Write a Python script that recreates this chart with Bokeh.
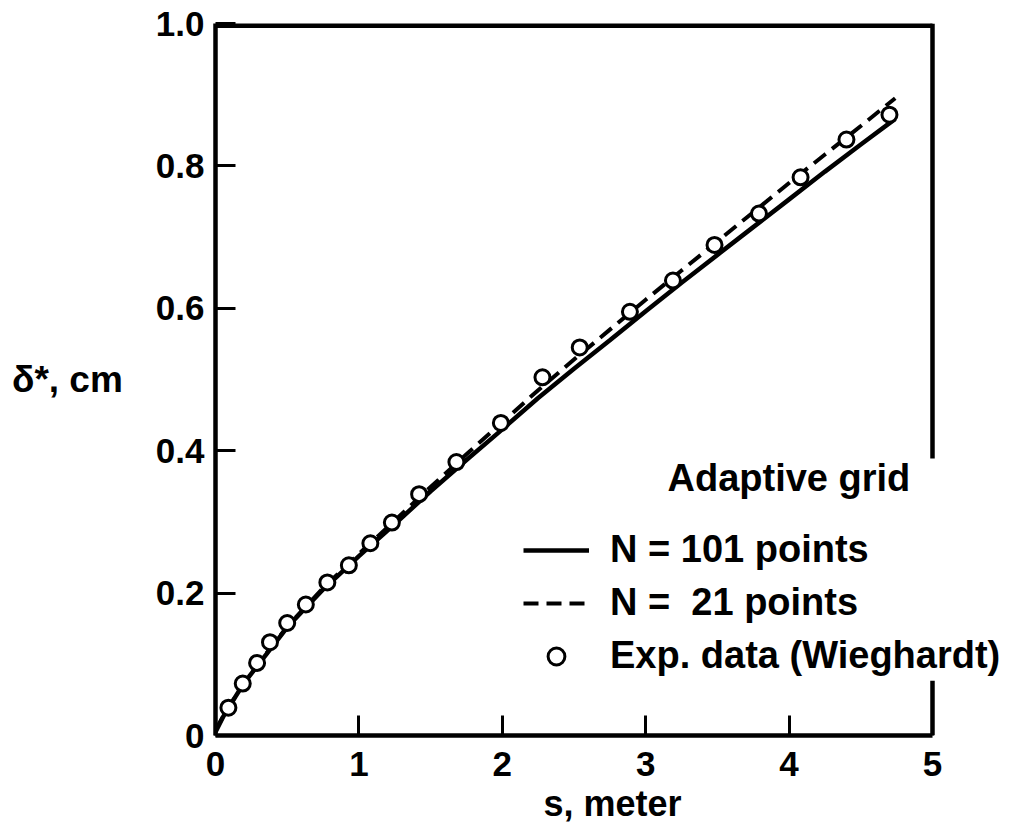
from bokeh.plotting import figure
from bokeh.models import Range1d, FixedTicker, Label, Legend, LegendItem
from bokeh.embed import file_html
from bokeh.resources import INLINE

# Experimental data (Wieghardt)
s_exp = [0.09, 0.19, 0.29, 0.38, 0.50, 0.63, 0.78, 0.93, 1.08, 1.23, 1.42,
         1.68, 1.99, 2.28, 2.54, 2.89, 3.19, 3.48, 3.79, 4.08, 4.40, 4.70]
d_exp = [0.039, 0.073, 0.102, 0.131, 0.158, 0.184, 0.215, 0.239, 0.270, 0.299, 0.339,
         0.384, 0.439, 0.503, 0.545, 0.595, 0.639, 0.689, 0.733, 0.784, 0.837, 0.872]

# N = 101 points (solid)
s_101 = [0.0, 0.05, 0.1, 0.2, 0.3, 0.4, 0.5, 0.75, 1.0, 1.25, 1.5, 1.75, 2.0, 2.25,
         2.5, 2.75, 3.0, 3.25, 3.5, 3.75, 4.0, 4.25, 4.5, 4.74]
d_101 = [0.005, 0.025, 0.042, 0.074, 0.100, 0.126, 0.152, 0.205, 0.252, 0.297, 0.343, 0.387,
         0.430, 0.474, 0.515, 0.555, 0.596, 0.636, 0.675, 0.714, 0.753, 0.792, 0.830, 0.866]

# N = 21 points (dashed)
s_21 = [0.0, 0.1, 0.3, 0.5, 0.75, 1.0, 1.25, 1.5, 1.75, 2.0, 2.25, 2.5, 2.75, 3.0,
        3.25, 3.5, 3.75, 4.0, 4.25, 4.5, 4.74]
d_21 = [0.008, 0.043, 0.101, 0.153, 0.207, 0.255, 0.302, 0.349, 0.395, 0.440, 0.485, 0.528,
        0.570, 0.612, 0.653, 0.694, 0.735, 0.776, 0.816, 0.856, 0.895]

x_ticks = [0, 1, 2, 3, 4, 5]
y_ticks = [0, 0.2, 0.4, 0.6, 0.8, 1.0]
y_tick_labels = {0: "0", 0.2: "0.2", 0.4: "0.4", 0.6: "0.6", 0.8: "0.8", 1.0: "1.0"}

# right border pieces (gap where legend sits)
right_border_lo = [0.0, 0.077]
right_border_hi = [0.389, 1.0]

FONT = "Liberation Sans"

# x range runs past 5 so the legend (which overhangs the box) is not clipped;
# the x axis itself is bounded to 0..5
p = figure(width=1009, height=834, x_range=Range1d(0, 5.537), y_range=Range1d(0, 1),
           output_backend="svg", toolbar_location=None,
           min_border_left=215, min_border_right=0, min_border_top=23, min_border_bottom=99)
p.outline_line_color = None
p.grid.visible = False
p.background_fill_color = "white"

for ax in (p.xaxis[0], p.yaxis[0]):
    ax.axis_line_width = 4.5
    ax.axis_line_color = "black"
    ax.major_tick_in = 20
    ax.major_tick_out = 0
    ax.major_tick_line_width = 3
    ax.minor_tick_line_color = None
    ax.major_label_text_font = FONT
    ax.major_label_text_font_style = "bold"
    ax.major_label_text_font_size = "35px"
    ax.major_label_text_color = "black"

p.xaxis.bounds = (0, 5)
p.xaxis.ticker = FixedTicker(ticks=x_ticks)
p.yaxis.ticker = FixedTicker(ticks=y_ticks)
p.yaxis.major_label_overrides = y_tick_labels
p.xaxis.major_label_standoff = 16
p.yaxis.major_label_standoff = 11

p.xaxis.axis_label = "s, meter"
p.xaxis.axis_label_text_font = FONT
p.xaxis.axis_label_text_font_style = "bold"
p.xaxis.axis_label_text_font_size = "36px"
p.xaxis.axis_label_text_color = "black"
p.xaxis.axis_label_standoff = 4

yax = p.yaxis[0]
yax.axis_label = "δ*, cm"
yax.axis_label_text_font = FONT
yax.axis_label_text_font_style = "bold"
yax.axis_label_text_font_size = "37px"
yax.axis_label_text_color = "black"
yax.axis_label_standoff = 30
if "axis_label_orientation" in yax.properties():
    yax.axis_label_orientation = "horizontal"

# top and right border
p.segment(x0=[0], y0=[1.0], x1=[5], y1=[1.0], line_width=9, color="black")
p.segment(x0=[5, 5], y0=[right_border_lo[0], right_border_hi[0]],
          x1=[5, 5], y1=[right_border_lo[1], right_border_hi[1]], line_width=4.5, color="black")

r1 = p.line(s_101, d_101, line_width=4.5, color="black")
r2 = p.line(s_21, d_21, line_width=4, color="black", line_dash="15 8")
r3 = p.scatter(s_exp, d_exp, size=15, fill_color="white", line_color="black", line_width=3)

legend = Legend(items=[
    LegendItem(label="N = 101 points", renderers=[r1]),
    LegendItem(label="N =  21 points", renderers=[r2]),
    LegendItem(label="Exp. data (Wieghardt)", renderers=[r3]),
], location=(308, 58), padding=0, margin=0, spacing=10, label_standoff=21,
    glyph_width=66, glyph_height=42, label_height=42,
    background_fill_alpha=0, border_line_color=None,
    label_text_font=FONT, label_text_font_style="bold", label_text_font_size="38px",
    label_text_color="black")
p.add_layout(legend)

p.add_layout(Label(x=3.152, y=0.362, text="Adaptive grid", text_font=FONT,
                   text_font_style="bold", text_font_size="38px", text_color="black",
                   text_baseline="middle", text_align="left"))

open("out.html", "w").write(file_html(p, INLINE))
